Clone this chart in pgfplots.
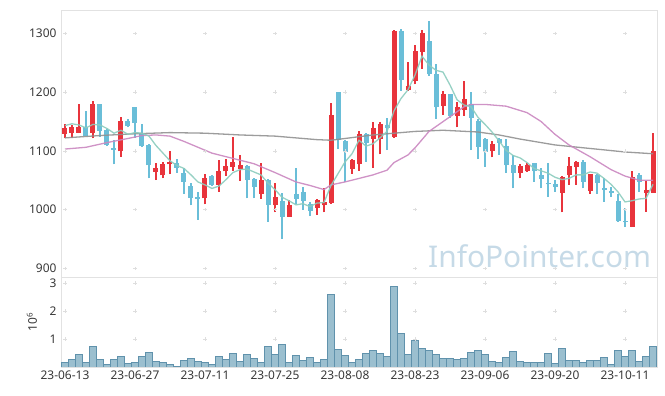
\documentclass[border=0pt]{standalone}
\usepackage{pgfplots}
\pgfplotsset{compat=1.18}
\usepackage{pgfplotstable}
\usepackage{fontspec}
\setmainfont{Noto Sans}
\definecolor{upc}{RGB}{232,52,60}
\definecolor{dnc}{RGB}{106,190,216}
\definecolor{ma5}{RGB}{140,204,190}
\definecolor{ma20}{RGB}{202,135,192}
\definecolor{ma60}{RGB}{145,145,145}
\definecolor{volf}{RGB}{155,191,207}
\definecolor{vold}{RGB}{96,146,172}
\definecolor{wm}{RGB}{198,218,231}
\definecolor{gridc}{RGB}{222,222,222}
\definecolor{framec}{RGB}{226,226,226}
\definecolor{txt}{RGB}{55,55,55}

\pgfplotstableread{
x o h l c
0 1129 1145 1121 1139
1 1131 1144 1122 1140
2 1131 1179 1130 1141
4 1131 1184 1121 1179
8 1099 1157 1090 1151
13 1064 1079 1050 1071
14 1058 1081 1053 1078
15 1077 1099 1060 1081
20 1019 1060 1009 1053
22 1042 1084 1030 1066
23 1065 1086 1057 1074
24 1073 1123 1066 1081
25 1069 1093 1049 1076
28 1027 1080 1018 1050
30 1007 1046 995 1021
32 988 1016 987 1007
36 1003 1018 991 1017
37 1007 1037 995 1013
38 1012 1181 1010 1161
41 1069 1086 1061 1084
42 1077 1134 1066 1128
44 1120 1149 1071 1138
45 1120 1149 1094 1145
47 1124 1305 1122 1304
49 1204 1252 1202 1211
50 1219 1280 1213 1270
51 1269 1306 1240 1300
54 1176 1202 1161 1196
56 1160 1183 1140 1174
57 1170 1219 1160 1189
61 1099 1116 1089 1112
65 1063 1078 1053 1074
66 1065 1079 1064 1075
71 1029 1057 995 1056
72 1059 1089 1042 1074
73 1073 1083 1042 1081
75 1032 1061 1027 1060
81 971 1065 970 1055
83 1029 1048 996 1033
84 1029 1131 1028 1100
}\up

\pgfplotstableread{
x o h l c
3 1140 1168 1125 1126
5 1179 1180 1124 1134
6 1135 1137 1108 1110
7 1105 1118 1077 1102
9 1151 1155 1140 1143
10 1174 1175 1122 1148
11 1131 1145 1107 1108
12 1110 1111 1053 1075
16 1080 1086 1063 1071
17 1062 1070 1027 1047
18 1040 1046 1007 1020
19 1021 1030 983 1018
21 1057 1058 1040 1042
26 1074 1076 1019 1050
27 1052 1054 1019 1039
29 1050 1052 979 1008
31 1014 1029 950 988
33 1026 1070 1009 1018
34 1030 1039 1000 1014
35 1010 1013 989 998
39 1200 1200 1103 1118
40 1117 1118 1047 1098
43 1128 1131 1081 1114
46 1144 1156 1101 1138
48 1304 1307 1202 1220
52 1287 1321 1228 1230
53 1231 1247 1155 1174
55 1196 1197 1156 1159
58 1180 1200 1101 1156
59 1151 1155 1086 1107
60 1120 1121 1073 1098
62 1120 1121 1093 1114
63 1109 1120 1063 1075
64 1076 1093 1036 1063
67 1079 1080 1047 1065
68 1058 1070 1036 1052
69 1045 1080 1022 1043
70 1043 1050 1030 1039
74 1081 1084 1036 1047
76 1059 1060 1027 1046
77 1036 1053 1013 1033
78 1032 1039 1021 1029
79 1014 1026 979 980
80 981 1002 970 978
82 1059 1062 1030 1047
}\down

\pgfplotstableread{
x v
0 0.17
1 0.27
2 0.45
3 0.17
4 0.74
5 0.27
6 0.10
7 0.27
8 0.38
9 0.13
10 0.17
11 0.38
12 0.52
13 0.20
14 0.17
15 0.10
16 0.03
17 0.24
18 0.31
19 0.20
20 0.17
21 0.10
22 0.38
23 0.27
24 0.49
25 0.20
26 0.45
27 0.31
28 0.17
29 0.74
30 0.45
31 0.81
32 0.17
33 0.42
34 0.24
35 0.35
36 0.17
37 0.27
38 2.60
39 0.63
40 0.42
41 0.17
42 0.27
43 0.49
44 0.60
45 0.49
46 0.38
47 2.88
48 1.20
49 0.45
50 0.95
51 0.67
52 0.60
53 0.45
54 0.31
55 0.31
56 0.27
57 0.31
58 0.52
59 0.60
60 0.45
61 0.20
62 0.17
63 0.35
64 0.56
65 0.20
66 0.17
67 0.17
68 0.17
69 0.49
70 0.13
71 0.67
72 0.24
73 0.24
74 0.17
75 0.24
76 0.24
77 0.35
78 0.10
79 0.60
80 0.38
81 0.60
82 0.20
83 0.38
84 0.74
}\vol

\begin{document}
\begin{tikzpicture}
\path (0,0) rectangle (665bp,396bp);
\begin{axis}[
  at={(61bp,119bp)}, anchor=south west, scale only axis,
  width=596bp, height=267bp,
  xmin=-0.57, xmax=84.57, ymin=885.2, ymax=1339.7,
  xtick=\empty,
  ytick={900,1000,1100,1200,1300},
  yticklabels={900,1000,1100,1200,1300},
  major tick length=0pt,
  axis line style={draw=framec},
  tick label style={font=\fontsize{12}{14}\selectfont, text=txt},
  yticklabel style={xshift=-1bp},
  clip=true,
]
\addplot[only marks, mark=+, mark size=1.8bp, color=gridc, forget plot] coordinates {
(0,900)(10,900)(20,900)(30,900)(40,900)(50,900)(60,900)(70,900)(80,900)
(0,1000)(10,1000)(20,1000)(30,1000)(40,1000)(50,1000)(60,1000)(70,1000)(80,1000)
(0,1100)(10,1100)(20,1100)(30,1100)(40,1100)(50,1100)(60,1100)(70,1100)(80,1100)
(0,1200)(10,1200)(20,1200)(30,1200)(40,1200)(50,1200)(60,1200)(70,1200)(80,1200)
(0,1300)(10,1300)(20,1300)(30,1300)(40,1300)(50,1300)(60,1300)(70,1300)(80,1300)
};
\node[font=\fontsize{30}{30}\selectfont, text=wm] at (axis cs:67.8,921) {InfoPointer.com};
% wicks
\addplot[draw=none, mark=none, forget plot,
  error bars/.cd, y dir=plus, y explicit, error mark=none,
  error bar style={line width=1.1bp, draw=upc}]
  table[x=x, y=l, y error expr=\thisrow{h}-\thisrow{l}] {\up};
\addplot[draw=none, mark=none, forget plot,
  error bars/.cd, y dir=plus, y explicit, error mark=none,
  error bar style={line width=1.1bp, draw=dnc}]
  table[x=x, y=l, y error expr=\thisrow{h}-\thisrow{l}] {\down};
% bodies
\addplot[draw=none, mark=none, forget plot,
  error bars/.cd, y dir=plus, y explicit, error mark=none,
  error bar style={line width=5bp, draw=upc, line cap=butt}]
  table[x=x, y=o, y error expr=\thisrow{c}-\thisrow{o}] {\up};
\addplot[draw=none, mark=none, forget plot,
  error bars/.cd, y dir=plus, y explicit, error mark=none,
  error bar style={line width=5bp, draw=dnc, line cap=butt}]
  table[x=x, y=c, y error expr=\thisrow{o}-\thisrow{c}] {\down};
% moving averages
\addplot[color=ma60, line width=1.3bp, mark=none, opacity=0.9] coordinates {
(0,1122)(5,1126)(10,1129)(15,1131)(20,1130)(25,1127)(30,1125)(33,1122)(36,1119)(38,1118)(40,1121)(44,1127)(50,1133)(54,1135)(59,1132)(62,1127)(65,1120)(70,1110)(75,1104)(80,1098)(84,1095)
};
\addplot[color=ma20, line width=1.3bp, mark=none, opacity=0.9] coordinates {
(0,1103)(3,1106)(6,1114)(9,1121)(11,1126)(13,1127)(15,1125)(17,1116)(19,1106)(21,1096)(24,1087)(27,1078)(30,1063)(33,1047)(35,1041)(37,1034)(38,1042)(40,1047)(42,1053)(44,1059)(46,1067)(47,1080)(49,1093)(50,1105)(52,1133)(55,1158)(57,1175)(58,1179)(60,1179)(63,1176)(66,1165)(68,1150)(70,1128)(72,1110)(75,1090)(78,1068)(80,1057)(82,1050)(84,1050)
};
\addplot[color=ma5, line width=1.3bp, mark=none, opacity=0.9] coordinates {
(0,1143)(1,1146)(2,1144)(3,1139)(4,1145)(5,1144)(6,1138)(7,1130)(8,1135)(9,1128)(10,1131)(11,1130)(12,1125)(13,1109)(14,1096)(15,1083)(16,1075)(17,1070)(18,1059)(19,1047)(20,1042)(21,1036)(22,1040)(23,1051)(24,1063)(25,1068)(26,1069)(27,1064)(28,1059)(29,1045)(30,1034)(31,1021)(32,1015)(33,1008)(34,1010)(35,1005)(36,1011)(37,1012)(38,1041)(39,1061)(40,1081)(41,1095)(42,1118)(43,1108)(44,1112)(45,1122)(46,1133)(47,1168)(48,1189)(49,1204)(50,1229)(51,1261)(52,1246)(53,1237)(54,1234)(55,1212)(56,1187)(57,1178)(58,1175)(59,1157)(60,1145)(61,1132)(62,1117)(63,1101)(64,1092)(65,1088)(66,1080)(67,1070)(68,1066)(69,1062)(70,1055)(71,1051)(72,1053)(73,1059)(74,1059)(75,1064)(76,1062)(77,1053)(78,1043)(79,1030)(80,1013)(81,1015)(82,1018)(83,1019)(84,1043)
};
\end{axis}
\begin{axis}[
  at={(61bp,29bp)}, anchor=south west, scale only axis,
  width=596bp, height=90bp,
  xmin=-0.57, xmax=84.57, ymin=0, ymax=3.214,
  xtick={0,10,20,30,40,50,60,70,80},
  xticklabels={23-06-13,23-06-27,23-07-11,23-07-25,23-08-08,23-08-23,23-09-06,23-09-20,23-10-11},
  ytick={1,2,3}, yticklabels={1,2,3},
  major tick length=0pt,
  axis line style={draw=framec},
  tick label style={font=\fontsize{12}{14}\selectfont, text=txt},
  yticklabel style={xshift=-1bp},
  ylabel={10\textsuperscript{6}},
  every axis y label/.style={at={([xshift=-29bp]rel axis cs:0,0.5)}, anchor=center, rotate=90, font=\fontsize{12}{14}\selectfont, text=txt},
  clip=true,
]
\addplot[only marks, mark=+, mark size=1.8bp, color=gridc, forget plot] coordinates {
(0,1)(10,1)(20,1)(30,1)(40,1)(50,1)(60,1)(70,1)(80,1)
(0,2)(10,2)(20,2)(30,2)(40,2)(50,2)(60,2)(70,2)(80,2)
(0,3)(10,3)(20,3)(30,3)(40,3)(50,3)(60,3)(70,3)(80,3)
};
\addplot[ybar, bar width=1, bar shift=0pt, fill=volf, draw=vold, line width=0.6bp] table[x=x, y=v] {\vol};
\end{axis}
\end{tikzpicture}
\end{document}
